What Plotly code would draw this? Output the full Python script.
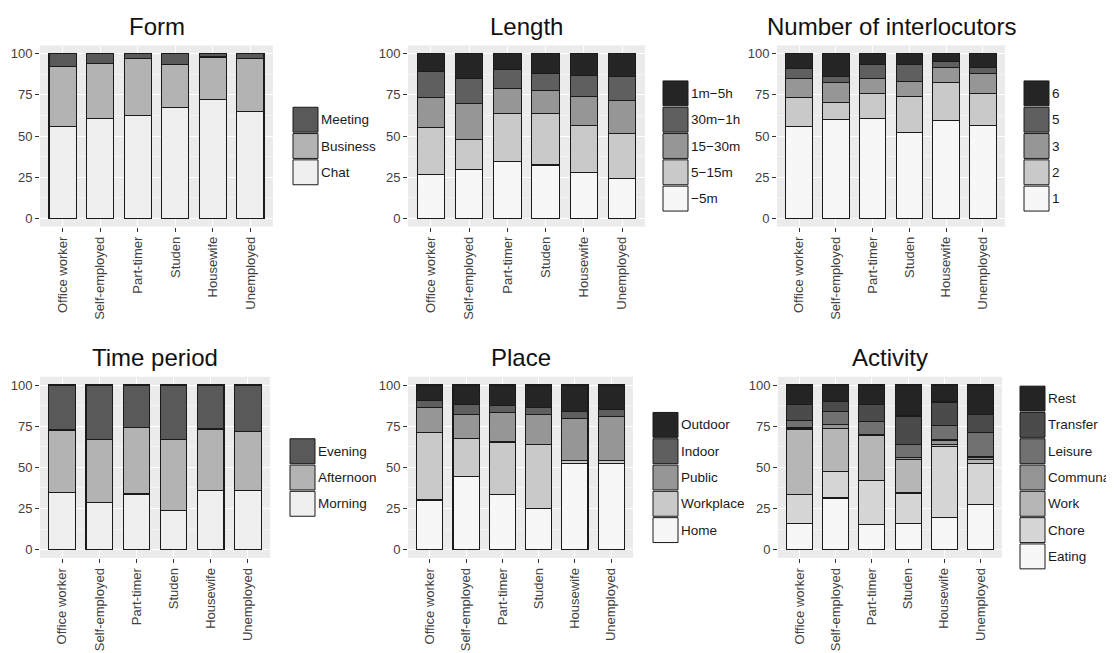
import plotly.graph_objects as go

# ---------------- data (percent of conversations) ----------------
categories = ["Office worker", "Self-employed", "Part-timer", "Studen", "Housewife", "Unemployed"]
y_ticks = [0, 25, 50, 75, 100]

# Form
form_levels = ["Chat", "Business", "Meeting"]
form_chat = [55.7, 60.8, 62.4, 67.3, 72.2, 64.7]
form_business = [36.3, 33.5, 34.7, 26.4, 25.8, 32.2]
form_meeting = [8.0, 5.7, 2.9, 6.3, 2.0, 3.1]

# Length
length_levels = ["\u22125m", "5\u221215m", "15\u221230m", "30m\u22121h", "1m\u22125h"]
length_5m = [26.7, 29.6, 34.7, 32.4, 27.6, 24.1]
length_5_15m = [28.4, 18.4, 29.0, 31.5, 28.9, 27.3]
length_15_30m = [18.2, 21.8, 15.3, 13.7, 17.4, 20.2]
length_30m_1h = [15.7, 15.1, 11.6, 10.2, 12.8, 14.5]
length_1m_5h = [11.0, 15.1, 9.4, 12.2, 13.3, 13.9]

# Number of interlocutors
inter_levels = ["1", "2", "3", "5", "6"]
inter_1 = [55.7, 60.2, 60.8, 52.2, 59.6, 56.5]
inter_2 = [17.6, 10.2, 15.3, 21.7, 23.1, 19.6]
inter_3 = [11.6, 12.3, 8.8, 9.4, 8.7, 12.1]
inter_5 = [6.1, 3.4, 8.8, 10.4, 4.1, 3.6]
inter_6 = [9.0, 13.9, 6.3, 6.3, 4.5, 8.2]

# Time period
time_levels = ["Morning", "Afternoon", "Evening"]
time_morning = [34.6, 28.7, 33.8, 23.9, 36.0, 36.0]
time_afternoon = [38.1, 38.3, 40.5, 42.9, 37.3, 35.7]
time_evening = [27.3, 33.0, 25.7, 33.2, 26.7, 28.3]

# Place
place_levels = ["Home", "Workplace", "Public", "Indoor", "Outdoor"]
place_home = [30.2, 44.5, 33.6, 25.1, 52.4, 52.4]
place_workplace = [40.7, 22.9, 31.8, 38.9, 1.6, 1.6]
place_public = [15.3, 14.6, 17.8, 18.0, 25.6, 26.8]
place_indoor = [4.3, 6.1, 4.2, 4.2, 4.2, 4.2]
place_outdoor = [9.5, 11.9, 12.6, 13.8, 16.2, 15.0]

# Activity
act_levels = ["Eating", "Chore", "Work", "Communal", "Leisure", "Transfer", "Rest"]
act_eating = [15.8, 31.4, 15.2, 15.8, 19.6, 27.7]
act_chore = [17.8, 16.0, 26.7, 18.6, 43.2, 24.9]
act_work = [39.3, 26.3, 27.3, 20.5, 1.0, 2.1]
act_communal = [1.0, 2.2, 0.8, 1.2, 2.8, 1.6]
act_leisure = [4.8, 7.9, 8.1, 7.9, 8.7, 14.6]
act_transfer = [9.4, 6.3, 10.0, 17.2, 14.4, 11.3]
act_rest = [11.9, 9.9, 11.9, 18.8, 10.3, 17.8]

# ---------------- styling ----------------
OFF = 8  # page body margin in the browser
W, H = 1114 - OFF, 653 - OFF
FONT = "Liberation Sans, Arial, Helvetica, sans-serif"
grey3 = ["#EFEFEF", "#B3B3B3", "#595959"]
grey5 = ["#F7F7F7", "#C9C9C9", "#969696", "#5F5F5F", "#252525"]
grey7 = ["#F7F7F7", "#D6D6D6", "#B6B6B6", "#949494", "#717171", "#4B4B4B", "#242424"]

panels = [
    dict(title="Form", levels=form_levels, series=[form_chat, form_business, form_meeting], colors=grey3,
         xdom=(40, 273), ydom=(45.5, 226.5), title_y=27, key_x=293, key_cy=146),
    dict(title="Length", levels=length_levels,
         series=[length_5m, length_5_15m, length_15_30m, length_30m_1h, length_1m_5h], colors=grey5,
         xdom=(408, 645), ydom=(45.5, 226.5), title_y=27, key_x=663, key_cy=146),
    dict(title="Number of interlocutors", levels=inter_levels,
         series=[inter_1, inter_2, inter_3, inter_5, inter_6], colors=grey5,
         xdom=(777, 1005), ydom=(45.5, 226.5), title_y=27, key_x=1024, key_cy=146),
    dict(title="Time period", levels=time_levels, series=[time_morning, time_afternoon, time_evening],
         colors=grey3, xdom=(40, 270), ydom=(376.8, 557.9), title_y=357, key_x=290, key_cy=477.5),
    dict(title="Place", levels=place_levels,
         series=[place_home, place_workplace, place_public, place_indoor, place_outdoor], colors=grey5,
         xdom=(408, 633), ydom=(376.8, 557.9), title_y=357, key_x=653, key_cy=477.5),
    dict(title="Activity", levels=act_levels,
         series=[act_eating, act_chore, act_work, act_communal, act_leisure, act_transfer, act_rest],
         colors=grey7, xdom=(778, 1002), ydom=(376.8, 557.9), title_y=357, key_x=1020, key_cy=477.5),
]


def fx(px):
    return (px - OFF) / W


def fy(py):
    return 1 - (py - OFF) / H


fig = go.Figure()
layout = dict(
    width=W, height=H, margin=dict(l=0, r=0, t=0, b=0),
    paper_bgcolor="white", plot_bgcolor="#EBEBEB",
    barmode="stack", showlegend=False,
    font=dict(family=FONT, size=13, color="#4D4D4D"),
)
shapes = []
annotations = []
minor_vals = [(a + b) / 2 for a, b in zip(y_ticks[:-1], y_ticks[1:])]

for i, p in enumerate(panels):
    n = i + 1
    xa = "x" if n == 1 else f"x{n}"
    ya = "y" if n == 1 else f"y{n}"
    for name, vals, col in zip(p["levels"], p["series"], p["colors"]):
        fig.add_trace(go.Bar(
            x=categories, y=vals, name=name, xaxis=xa, yaxis=ya,
            width=0.72, marker=dict(color=col, line=dict(color="#1A1A1A", width=1.1)),
        ))
    xkey = "xaxis" if n == 1 else f"xaxis{n}"
    ykey = "yaxis" if n == 1 else f"yaxis{n}"
    layout[xkey] = dict(
        domain=[fx(p["xdom"][0]), fx(p["xdom"][1])], anchor=ya,
        type="category", categoryorder="array", categoryarray=categories,
        range=[-0.6, len(categories) - 0.4],
        showgrid=True, gridcolor="white", gridwidth=1,
        ticks="outside", ticklen=4, tickwidth=1, tickcolor="#333333",
        tickangle=-90, tickfont=dict(family=FONT, size=13, color="#404040"),
        showline=False, zeroline=False, fixedrange=True,
    )
    layout[ykey] = dict(
        domain=[fy(p["ydom"][1]), fy(p["ydom"][0])], anchor=xa,
        range=[-5, 105], tickmode="array", tickvals=y_ticks,
        ticktext=[str(v) for v in y_ticks],
        showgrid=True, gridcolor="white", gridwidth=1.2,
        minor=dict(tickmode="array", tickvals=minor_vals, showgrid=True,
                   gridcolor="#F4F4F4", gridwidth=0.6, ticks=""),
        ticks="outside", ticklen=4, tickwidth=1, tickcolor="#333333",
        tickfont=dict(family=FONT, size=13, color="#404040"),
        showline=False, zeroline=False, fixedrange=True,
    )
    # panel title
    annotations.append(dict(
        text=p["title"], xref="paper", yref="paper",
        x=fx((p["xdom"][0] + p["xdom"][1]) / 2), y=fy(p["title_y"]),
        xanchor="center", yanchor="middle", showarrow=False,
        font=dict(family=FONT, size=24, color="#111111"),
    ))
    # legend (top item = last stacked level)
    pitch, kw = 26.3, 25
    nlev = len(p["levels"])
    top = p["key_cy"] - nlev * pitch / 2
    for j, (name, col) in enumerate(reversed(list(zip(p["levels"], p["colors"])))):
        y0 = top + j * pitch + 0.7
        y1 = top + (j + 1) * pitch - 0.7
        shapes.append(dict(
            type="rect", xref="paper", yref="paper",
            x0=fx(p["key_x"]), x1=fx(p["key_x"] + kw), y0=fy(y1), y1=fy(y0),
            fillcolor=col, line=dict(color="#1A1A1A", width=1), layer="above",
        ))
        annotations.append(dict(
            text=name, xref="paper", yref="paper",
            x=fx(p["key_x"] + kw + 1), y=fy((y0 + y1) / 2),
            xanchor="left", yanchor="middle", showarrow=False,
            font=dict(family=FONT, size=13.5, color="#1A1A1A"),
        ))

layout["shapes"] = shapes
layout["annotations"] = annotations
fig.update_layout(**layout)
fig.write_html("out.html")
